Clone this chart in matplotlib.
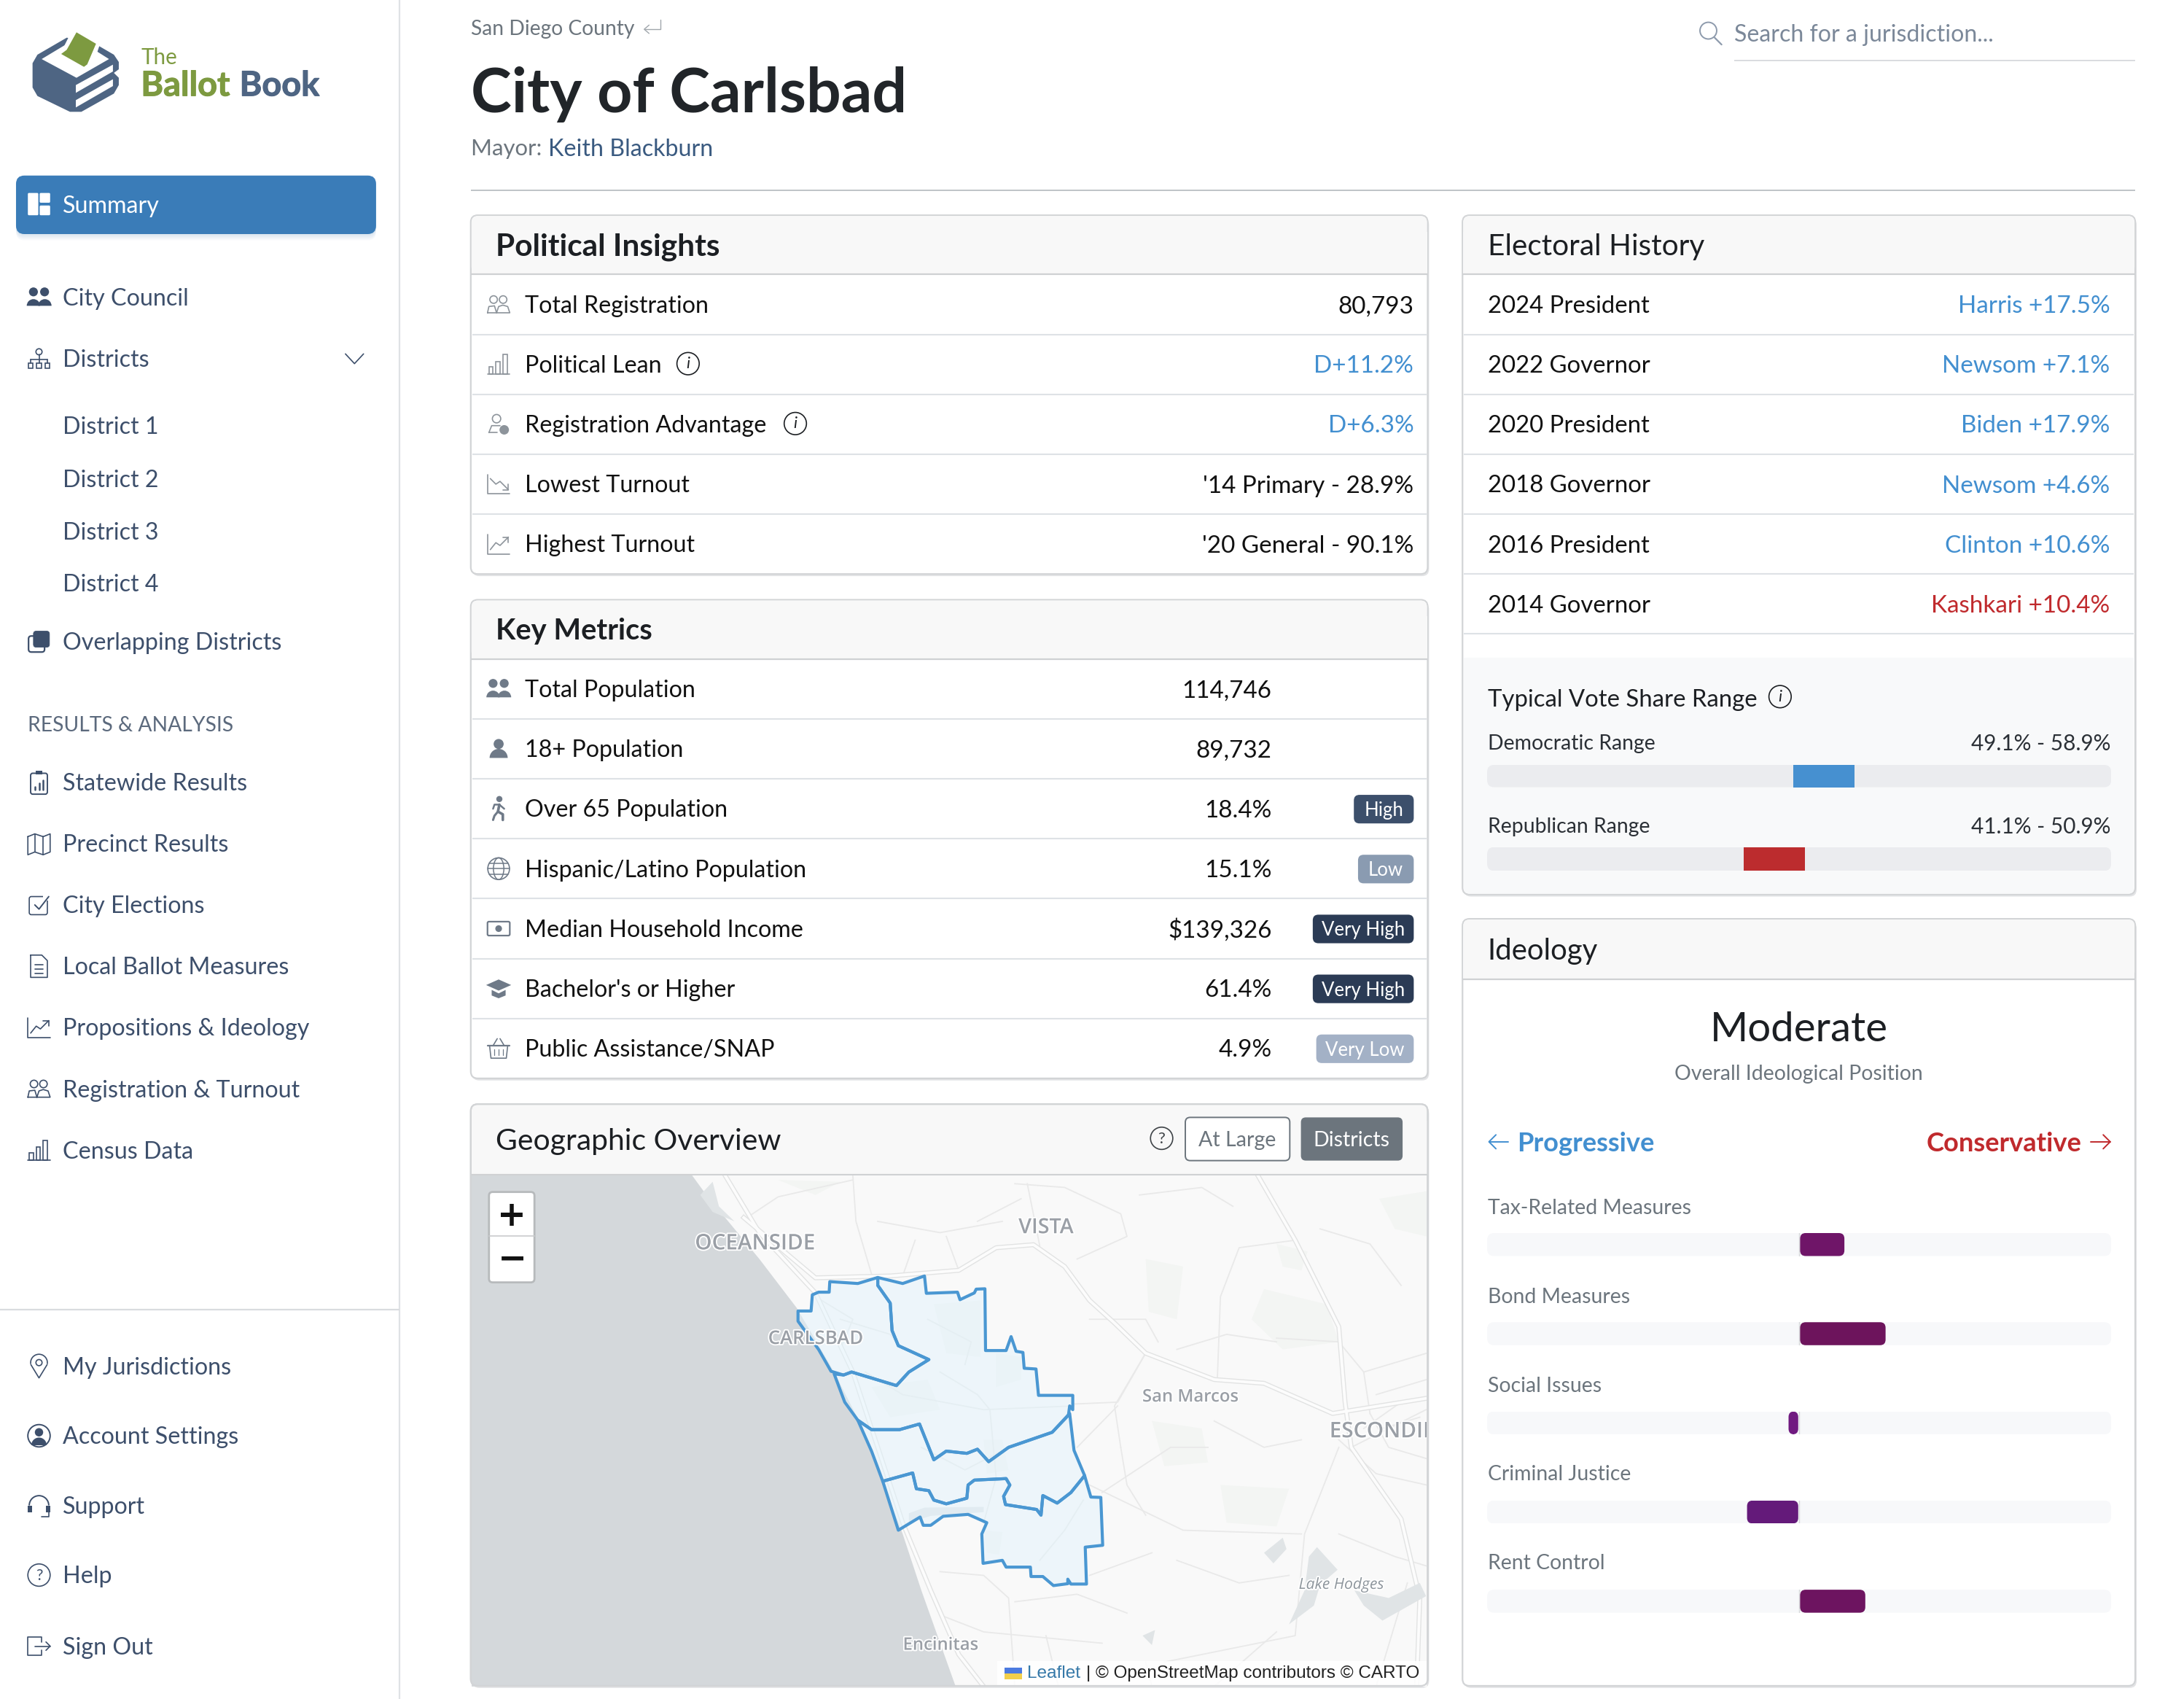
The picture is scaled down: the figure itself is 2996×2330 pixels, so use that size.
import matplotlib
matplotlib.use('Agg')
import matplotlib.pyplot as plt
import matplotlib.patheffects as pe
from matplotlib.patches import FancyBboxPatch, Rectangle, Circle, Polygon, Wedge, Ellipse, Arc

# page is laid out in a 1568 wide coordinate system, the png is 2996 wide
W_PX, H_PX = 2996, 2330
S = W_PX / 1568
FONT = 'Lato'

NAVY = '#3d4f6b'
GREY = '#6c757d'
BLUE = '#428fd0'
RED = '#c02a2d'
LINE = '#dee2e6'
BORDER = '#d2d4d6'
BODY = 17.2
NAV = 16.9
SMALL = 14.9

# sidebar
nav_main = ['City Council', 'Districts']
nav_main_y = [213.5, 257.5]
nav_districts = ['District 1', 'District 2', 'District 3', 'District 4']
nav_districts_y = [305.5, 343.5, 381.5, 418.5]
nav_results = ['Statewide Results', 'Precinct Results', 'City Elections', 'Local Ballot Measures',
               'Propositions & Ideology', 'Registration & Turnout', 'Census Data']
nav_results_y = [561.5, 605.5, 649.5, 693.5, 737.5, 781.5, 825.5]
nav_bottom = ['My Jurisdictions', 'Account Settings', 'Support', 'Help', 'Sign Out']
nav_bottom_y = [980.5, 1030.5, 1080.5, 1130.5, 1181.5]

# political insights
insight_labels = ['Total Registration', 'Political Lean', 'Registration Advantage', 'Lowest Turnout', 'Highest Turnout']
insight_values = ['80,793', 'D+11.2%', 'D+6.3%', "'14 Primary - 28.9%", "'20 General - 90.1%"]
insight_colors = ['#111111', BLUE, BLUE, '#111111', '#111111']
insight_icons = ['people_o', 'bars', 'person_check', 'trend_down', 'trend_up']

# key metrics
metric_labels = ['Total Population', '18+ Population', 'Over 65 Population', 'Hispanic/Latino Population',
                 'Median Household Income', "Bachelor's or Higher", 'Public Assistance/SNAP']
metric_values = ['114,746', '89,732', '18.4%', '15.1%', '$139,326', '61.4%', '4.9%']
metric_badges = [None, None, 'High', 'Low', 'Very High', 'Very High', 'Very Low']
metric_icons = ['people_f', 'person_f', 'walk', 'globe', 'cash', 'cap', 'basket']
badge_colors = {'High': '#3c4f6b', 'Low': '#8a9bb1', 'Very High': '#2b3b55', 'Very Low': '#a3b1c6'}

# electoral history
election_names = ['2024 President', '2022 Governor', '2020 President', '2018 Governor', '2016 President', '2014 Governor']
election_results = ['Harris +17.5%', 'Newsom +7.1%', 'Biden +17.9%', 'Newsom +4.6%', 'Clinton +10.6%', 'Kashkari +10.4%']
election_colors = [BLUE, BLUE, BLUE, BLUE, BLUE, RED]

# vote share ranges
range_names = ['Democratic Range', 'Republican Range']
range_low = [49.1, 41.1]
range_high = [58.9, 50.9]
range_colors = ['#4690d0', '#bc2c2e']

# ideology, negative = progressive, positive = conservative
ideology_names = ['Tax-Related Measures', 'Bond Measures', 'Social Issues', 'Criminal Justice', 'Rent Control']
ideology_scores = [14.8, 28.0, -3.7, -17.0, 21.5]
ideology_colors = ['#6f1568', '#6d145c', '#701a80', '#641a7a', '#6d1460']

# map outlines, in map coordinates
district_1 = [(532, 538), (553, 538), (555, 495), (565, 488), (582, 488), (583, 460), (628, 465), (660, 449), (660, 470),
              (680, 517), (683, 590), (693, 630), (742, 667), (710, 700), (690, 736), (618, 700), (605, 708), (585, 698),
              (565, 640), (532, 565)]
district_2 = [(660, 449), (700, 465), (735, 445), (738, 491), (788, 488), (792, 508), (815, 490), (818, 480), (832, 479),
              (833, 643), (866, 643), (874, 606), (882, 645), (893, 648), (895, 690), (914, 692), (918, 762), (973, 762),
              (973, 800), (968, 790), (966, 815), (940, 860), (870, 900), (838, 938), (820, 905), (803, 916), (770, 910),
              (750, 933), (727, 838), (695, 853), (650, 853), (628, 828), (607, 780), (590, 705), (605, 708), (618, 700),
              (690, 736), (710, 700), (742, 667), (693, 630), (683, 590), (680, 517), (660, 470)]
district_3 = [(628, 828), (650, 853), (695, 853), (727, 838), (750, 933), (770, 910), (803, 916), (820, 905), (838, 938),
              (870, 900), (940, 860), (968, 810), (975, 908), (992, 975), (970, 1020), (948, 1048), (925, 1028), (922, 1080),
              (915, 1065), (865, 1052), (862, 1030), (872, 1000), (866, 983), (815, 987), (805, 1000), (803, 1035), (770, 1050),
              (750, 1040), (742, 1015), (722, 1010), (716, 968), (668, 990), (650, 910)]
district_4 = [(668, 990), (716, 968), (722, 1010), (742, 1015), (750, 1040), (770, 1050), (803, 1035), (805, 1000), (815, 987),
              (866, 983), (872, 1000), (862, 1030), (865, 1052), (915, 1065), (922, 1080), (925, 1028), (948, 1048), (970, 1020),
              (992, 975), (1002, 1032), (1018, 1033), (1021, 1160), (993, 1165), (995, 1263), (970, 1263), (965, 1250), (965, 1262),
              (942, 1267), (925, 1243), (906, 1243), (905, 1218), (866, 1218), (860, 1200), (829, 1208), (827, 1130), (835, 1100),
              (805, 1078), (765, 1083), (745, 1107), (733, 1107), (728, 1085), (693, 1120)]
ocean = [(362, 178), (385, 230), (420, 300), (470, 400), (530, 530), (590, 700), (630, 830), (670, 1000), (700, 1130),
         (730, 1280), (785, 1535), (8, 1535), (8, 178)]
lagoons = [[(375, 230), (395, 195), (405, 260), (430, 300), (395, 275)],
           [(710, 1075), (735, 1060), (830, 1058), (830, 1072), (745, 1082), (710, 1100)],
           [(1280, 1180), (1310, 1140), (1316, 1170), (1295, 1208)],
           [(1352, 1190), (1365, 1165), (1398, 1225), (1370, 1265), (1360, 1320), (1320, 1370), (1345, 1280)],
           [(1425, 1280), (1480, 1300), (1530, 1260), (1540, 1295), (1470, 1360), (1440, 1320)],
           [(1085, 1400), (1105, 1385), (1100, 1425)]]
green_patches = [[(1465, 240), (1541, 220), (1541, 340), (1490, 320)], [(1280, 480), (1380, 520), (1400, 620), (1310, 640), (1260, 560)],
                 [(1090, 400), (1150, 420), (1140, 560), (1095, 540)], [(1100, 830), (1180, 850), (1190, 940), (1120, 950)],
                 [(1210, 1000), (1320, 1010), (1300, 1110), (1220, 1100)], [(750, 520), (825, 510), (825, 660), (770, 650)],
                 [(500, 190), (600, 195), (560, 230)], [(830, 1120), (860, 1125), (855, 1185), (835, 1180)],
                 [(1300, 360), (1350, 380), (1340, 430), (1310, 420)], [(850, 650), (890, 660), (890, 720), (850, 740)],
                 [(650, 740), (740, 720), (760, 800), (680, 820)], [(830, 880), (860, 880), (870, 960), (835, 970)]]
main_roads = [[(415, 178), (470, 330), (560, 490), (620, 700), (660, 900), (700, 1100), (745, 1280), (790, 1450), (830, 1535)],
              [(445, 290), (560, 450), (680, 445), (790, 430), (850, 370), (910, 362), (960, 420), (1000, 510), (1040, 570),
               (1090, 650), (1200, 720), (1280, 730), (1390, 810), (1540, 770)],
              [(1270, 178), (1330, 350), (1400, 580), (1410, 780), (1420, 900), (1500, 1090), (1530, 1300), (1525, 1535)]]
minor_roads = [[(620, 178), (625, 300), (650, 440)], [(450, 290), (500, 235), (620, 190)], [(975, 785), (1045, 780), (1090, 650)],
               [(980, 900), (1045, 790)], [(1205, 720), (1210, 500), (1240, 370), (1330, 350)], [(1400, 900), (1345, 1130), (1330, 1400), (1120, 1470)],
               [(760, 1230), (830, 1240), (870, 1300), (880, 1535)], [(760, 1345), (830, 1390), (1020, 1420)], [(1000, 1000), (1150, 1120), (1340, 1130)],
               [(1090, 650), (1040, 790), (1050, 900)], [(1300, 610), (1400, 620), (1440, 700), (1450, 810)], [(1420, 900), (1540, 800)],
               [(720, 350), (700, 445)], [(770, 340), (790, 430)], [(900, 200), (920, 365)], [(1020, 1020), (1130, 900), (1190, 900)],
               [(640, 700), (700, 760), (830, 800), (975, 790)], [(600, 560), (680, 600), (700, 640)], [(840, 800), (850, 980), (830, 1100)],
               [(990, 1040), (960, 1120), (920, 1200)], [(730, 900), (800, 960), (870, 900)], [(1460, 1535), (1510, 1260)], [(1200, 1535), (1300, 1390)],
               [(560, 500), (620, 560), (600, 640)], [(740, 560), (810, 620), (800, 680)], [(760, 700), (820, 760), (840, 800)],
               [(880, 200), (960, 210), (1050, 280), (1060, 340), (980, 400)], [(820, 300), (890, 240)], [(660, 300), (760, 330), (860, 300)],
               [(1080, 230), (1180, 210), (1230, 260)], [(1000, 560), (1090, 560), (1110, 620)], [(1140, 640), (1220, 600), (1300, 620)],
               [(1440, 700), (1541, 650)], [(1460, 760), (1541, 720)], [(1450, 810), (1480, 900), (1541, 930)], [(1440, 850), (1500, 780)],
               [(1470, 850), (1530, 820)], [(1400, 880), (1460, 970), (1541, 1000)], [(1050, 900), (1060, 1000), (1090, 1080)],
               [(1200, 830), (1280, 900), (1340, 880)], [(880, 1310), (980, 1290), (1060, 1340)], [(1140, 1200), (1240, 1260), (1320, 1240)],
               [(1000, 1240), (1100, 1180)], [(1400, 1130), (1490, 1190), (1541, 1215)], [(1370, 320), (1450, 360), (1500, 470)],
               [(930, 1400), (950, 1535)], [(1090, 1470), (1100, 1535)]]
map_labels = ['OCEANSIDE', 'VISTA', 'CARLSBAD', 'San Marcos', 'ESCONDIDO', 'Encinitas']
map_label_pos = [(463, 359), (930, 317), (560, 613), (1162, 767), (1385, 858), (761, 1426)]
map_label_size = [15.5, 15, 13.5, 12.5, 15.5, 12.5]

fig = plt.figure(figsize=(W_PX / 200, H_PX / 200), dpi=200, facecolor='white')
ax = fig.add_axes([0, 0, 1, 1])
ax.set_xlim(0, W_PX / S)
ax.set_ylim(H_PX / S, 0)
ax.axis('off')


def fs(size):
    """ font size given in page units """
    return size * S * 72 / 200


def text(x, y, s, size=BODY, color='#111111', ha='left', weight='normal', target=None, style='normal', **kw):
    """ y is the visual middle of the x-height row, text sits on a baseline below it """
    target = target or ax
    return target.text(x, y + size * 0.35, s, fontsize=fs(size), color=color, ha=ha, va='baseline',
                       family=FONT, fontweight=weight, fontstyle=style, **kw)


def box(x0, y0, x1, y1, r=4, fc='white', ec='none', lw=0.0, z=2):
    p = FancyBboxPatch((x0, y0), x1 - x0, y1 - y0, boxstyle=f'round,pad=0,rounding_size={r}',
                       fc=fc, ec=ec, lw=lw, zorder=z)
    ax.add_patch(p)
    return p


def hline(x0, x1, y, color=LINE, lw=0.75, z=3):
    ax.plot([x0, x1], [y, y], color=color, lw=lw, zorder=z, solid_capstyle='butt')


def pl(xs, ys, c, lw=0.6):
    ax.plot(xs, ys, color=c, lw=lw, zorder=6, solid_capstyle='round', solid_joinstyle='round')


def circ(x, y, r, c, fill=False, lw=0.6):
    ax.add_patch(Circle((x, y), r, fc=c if fill else 'none', ec=c, lw=0 if fill else lw, zorder=6))


def top_half(x, y, rx, ry, c, fill=True, lw=0.6):
    # inverted y axis, so 180-360 draws the upper half
    ax.add_patch(Wedge((x, y), rx, 180, 360, fc=c if fill else 'none', ec=c, lw=0 if fill else lw, zorder=6))


def icon(name, x, y, c):
    if name == 'people_f':
        circ(x - 4, y - 4, 3.2, c, True)
        circ(x + 4, y - 4, 3.2, c, True)
        top_half(x - 4, y + 6, 4.8, 5, c)
        top_half(x + 4.2, y + 6, 4.8, 5, c)
    elif name == 'people_o':
        circ(x - 3.6, y - 3.5, 2.7, c)
        circ(x + 3.2, y - 3.5, 2.7, c)
        pl([x - 8, x - 7, x - 3, x - 1.5, x - 8], [y + 6, y + 1.5, y + 1, y + 6, y + 6], c)
        pl([x - 1.5, x + 0, x + 3, x + 6.5, x + 8, x - 1.5], [y + 6, y + 1.5, y + 0.5, y + 1.5, y + 6, y + 6], c)
    elif name == 'person_f':
        circ(x, y - 3.5, 3.6, c, True)
        top_half(x, y + 6.5, 6.5, 5, c)
    elif name == 'bars':
        pl([x - 8, x + 8], [y + 7, y + 7], c)
        ax.add_patch(Rectangle((x - 7, y + 2), 3, 5, fc='none', ec=c, lw=0.6, zorder=6))
        ax.add_patch(Rectangle((x - 2, y - 2), 3, 9, fc='none', ec=c, lw=0.6, zorder=6))
        ax.add_patch(Rectangle((x + 3, y - 7), 3, 14, fc='none', ec=c, lw=0.6, zorder=6))
    elif name == 'person_check':
        circ(x - 1.5, y - 4, 3, c)
        pl([x - 7, x - 5, x + 1], [y + 6, y + 1, y + 1], c)
        pl([x - 7, x - 1], [y + 6, y + 6], c)
        circ(x + 4, y + 4, 3.4, c, True)
    elif name in ('trend_down', 'trend_up'):
        pl([x - 8, x - 8, x + 8], [y - 7, y + 7, y + 7], c)
        if name == 'trend_up':
            pl([x - 6, x - 2, x + 1, x + 7], [y + 4, y - 1, y + 1, y - 5], c)
            pl([x + 3, x + 7, x + 7], [y - 5, y - 5, y - 1], c)
        else:
            pl([x - 6, x - 2, x + 1, x + 7], [y - 4, y + 0, y - 2, y + 4], c)
            pl([x + 3, x + 7, x + 7], [y + 4, y + 4, y], c)
    elif name == 'walk':
        circ(x + 0.5, y - 7, 2.2, c, True)
        pl([x + 0.5, x - 0.5, x + 3, x + 3], [y - 3, y + 2, y + 4, y + 8], c, 1.3)
        pl([x - 0.5, x - 3, x - 4], [y + 2, y + 5, y + 8], c, 1.1)
        pl([x - 4, x - 3, x + 0.5, x + 4], [y + 0, y - 3, y - 3, y], c, 0.9)
    elif name == 'globe':
        circ(x, y, 7.8, c)
        ax.add_patch(Ellipse((x, y), 7.5, 15.6, fc='none', ec=c, lw=0.55, zorder=6))
        pl([x - 7.8, x + 7.8], [y, y], c, 0.55)
        pl([x - 6.8, x + 6.8], [y - 4, y - 4], c, 0.55)
        pl([x - 6.8, x + 6.8], [y + 4, y + 4], c, 0.55)
    elif name == 'cash':
        ax.add_patch(FancyBboxPatch((x - 8, y - 5), 16, 10, boxstyle='round,pad=0,rounding_size=1', fc='none', ec=c, lw=0.8, zorder=6))
        circ(x, y, 2.4, c, True)
    elif name == 'cap':
        ax.add_patch(Polygon([(x - 9, y - 2.5), (x, y - 6.5), (x + 9, y - 2.5), (x, y + 1.5)], fc=c, ec='none', zorder=6))
        ax.add_patch(Polygon([(x - 5, y + 1), (x, y + 3.5), (x + 5, y + 1), (x + 5, y + 5), (x, y + 7), (x - 5, y + 5)], fc=c, ec='none', zorder=6))
    elif name == 'basket':
        pl([x - 8, x + 8], [y - 2, y - 2], c, 0.8)
        pl([x - 6.5, x - 5.5, x + 5.5, x + 6.5, x - 6.5], [y - 2, y + 7, y + 7, y - 2, y - 2], c)
        pl([x - 4, x - 1], [y - 2, y - 7], c)
        pl([x + 4, x + 1], [y - 2, y - 7], c)
        for dx in (-3, 0, 3):
            pl([x + dx, x + dx], [y + 0.5, y + 5], c, 0.45)
    elif name == 'org':
        circ(x, y - 5, 2.2, c)
        pl([x, x], [y - 3, y + 0.5], c)
        pl([x - 6, x + 6], [y + 0.5, y + 0.5], c)
        for dx in (-6, 0, 6):
            pl([x + dx, x + dx], [y + 0.5, y + 3], c)
            ax.add_patch(Rectangle((x + dx - 1.8, y + 3), 3.6, 3.6, fc='none', ec=c, lw=0.6, zorder=6))
    elif name == 'overlap':
        ax.add_patch(FancyBboxPatch((x - 7.5, y - 4), 11.5, 11.5, boxstyle='round,pad=0,rounding_size=2', fc='none', ec=c, lw=0.8, zorder=6))
        ax.add_patch(FancyBboxPatch((x - 4, y - 7.5), 11.5, 11.5, boxstyle='round,pad=0,rounding_size=2', fc=c, ec=c, lw=0.3, zorder=6))
    elif name == 'clipboard':
        ax.add_patch(FancyBboxPatch((x - 6, y - 6.5), 12, 15, boxstyle='round,pad=0,rounding_size=1.5', fc='none', ec=c, lw=0.7, zorder=6))
        ax.add_patch(Rectangle((x - 2.5, y - 8.5), 5, 3, fc=c, ec='none', zorder=6))
        for dx, h in zip((-3, 0, 3), (2.5, 5, 7)):
            pl([x + dx, x + dx], [y + 5.5, y + 5.5 - h], c, 0.9)
    elif name == 'map':
        pl([x - 8, x - 3, x + 3, x + 8, x + 8, x + 3, x - 3, x - 8, x - 8], [y - 5, y - 7, y - 5, y - 7, y + 6, y + 8, y + 6, y + 8, y - 5], c)
        pl([x - 3, x - 3], [y - 7, y + 6], c)
        pl([x + 3, x + 3], [y - 5, y + 8], c)
    elif name == 'check':
        ax.add_patch(FancyBboxPatch((x - 7, y - 6), 13, 13, boxstyle='round,pad=0,rounding_size=1.5', fc='none', ec=c, lw=0.6, zorder=6))
        ax.add_patch(Rectangle((x + 3, y - 8), 5, 5, fc='white', ec='none', zorder=6))
        pl([x - 3, x, x + 7], [y, y + 3, y - 6], c, 0.7)
    elif name == 'doc':
        pl([x - 6, x + 2, x + 6, x + 6, x - 6, x - 6], [y - 8, y - 8, y - 4, y + 8, y + 8, y - 8], c)
        for dy in (-1, 2, 5):
            pl([x - 3, x + 3], [y + dy, y + dy], c)
    elif name == 'pin':
        pl([x - 5.8, x, x + 5.8], [y - 1, y + 8.5, y - 1], c)
        ax.add_patch(Arc((x, y - 2.5), 12, 12, theta1=170, theta2=370, ec=c, lw=0.6, zorder=6))
        circ(x, y - 2.5, 2.2, c)
    elif name == 'account':
        circ(x, y, 8, c, lw=0.7)
        circ(x, y - 2.5, 3, c, True)
        top_half(x, y + 6.8, 5.5, 5, c)
    elif name == 'support':
        ax.add_patch(Arc((x, y), 14, 14, theta1=180, theta2=360, ec=c, lw=0.7, zorder=6))
        ax.add_patch(Rectangle((x - 8, y), 3, 5, fc=c, ec='none', zorder=6))
        ax.add_patch(Rectangle((x + 5, y), 3, 5, fc=c, ec='none', zorder=6))
        pl([x + 7, x + 7, x + 2], [y + 5, y + 8, y + 8], c)
    elif name == 'help':
        circ(x, y, 8, c)
        ax.text(x, y + 0.4, '?', fontsize=fs(11), color=c, ha='center', va='center', family=FONT, zorder=6)
    elif name == 'signout':
        pl([x + 2, x + 2, x - 8, x - 8, x + 2, x + 2], [y - 3, y - 6.5, y - 6.5, y + 6.5, y + 6.5, y + 3], c)
        pl([x - 3, x + 8], [y, y], c)
        pl([x + 5, x + 8, x + 5], [y - 3, y, y + 3], c)
    elif name == 'info':
        circ(x, y, 8, c)
        ax.text(x, y + 0.2, 'i', fontsize=fs(11.5), color=c, ha='center', va='center', family=FONT, fontstyle='italic', zorder=6)


def draw_logo():
    """ logo in its own axes, coordinates taken from a 2.24 x 3 zoom """
    lg = fig.add_axes([0, 1 - 500 / H_PX, 700 / W_PX, 500 / H_PX])
    lg.set_xlim(0, 700 * 2.24)
    lg.set_ylim(1500, 0)
    lg.axis('off')
    dark = '#4e6583'
    green = '#7d9a40'
    lg.add_patch(Polygon([(205, 155), (115, 225), (100, 260), (100, 360), (115, 395), (215, 460), (250, 460), (350, 385),
                          (365, 350), (365, 320), (350, 300), (365, 285), (365, 255), (350, 225), (305, 190), (270, 170)], fc=dark, ec='none'))
    lg.add_patch(Polygon([(128, 243), (200, 185), (290, 205), (335, 243), (235, 320)], fc='white', ec='none'))
    lg.add_patch(Polygon([(225, 115), (310, 170), (285, 270), (258, 290), (170, 225), (195, 195)], fc='white', ec='none'))
    lg.add_patch(Polygon([(235, 133), (295, 180), (268, 265), (258, 275), (188, 222), (205, 205)], fc=green, ec='none'))
    lg.add_patch(Polygon([(233, 350), (347, 266), (347, 294), (233, 382)], fc='white', ec='none'))
    lg.add_patch(Polygon([(233, 412), (347, 326), (347, 354), (233, 442)], fc='white', ec='none'))
    lg.text(433, 264, 'The', fontsize=fs(15.5), color=green, family=FONT)
    thick = [pe.withStroke(linewidth=0.4, foreground=green)]
    lg.text(433, 394, 'Ballot', fontsize=fs(24.5), color=green, family=FONT, fontweight='bold', path_effects=thick)
    thick = [pe.withStroke(linewidth=0.4, foreground=dark)]
    lg.text(736, 394, 'Book', fontsize=fs(24.5), color=dark, family=FONT, fontweight='bold', path_effects=thick)


def card(x0, y0, x1, y1, header_bottom, title, size=21.6, weight='normal'):
    box(x0 + 1, y0 + 2, x1 + 1, y1 + 1.5, r=5, fc='#e3e4e6', z=1)
    box(x0, y0, x1, y1, r=5, fc='white', ec=BORDER, lw=0.8, z=2)
    box(x0 + 0.5, y0 + 0.5, x1 - 0.5, header_bottom - 1, r=4.5, fc='#f8f8f8', z=2.1)
    ax.add_patch(Rectangle((x0 + 0.5, y0 + 12), x1 - x0 - 1, header_bottom - y0 - 12, fc='#f8f8f8', ec='none', zorder=2.1))
    hline(x0, x1, header_bottom, color='#cfd1d3', lw=0.8)
    text(x0 + 18, (y0 + header_bottom) / 2, title, size=size, color='#1c1f23', weight=weight, zorder=5)


def bar_axes(x0, y0, x1, y1, xlim):
    """ axes over a track, so bars are placed by their value """
    a = fig.add_axes([x0 * S / W_PX, 1 - y1 * S / H_PX, (x1 - x0) * S / W_PX, (y1 - y0) * S / H_PX])
    a.set_xlim(*xlim)
    a.set_ylim(0, 1)
    a.axis('off')
    a.patch.set_alpha(0)
    return a


def rounded_bar(a, left, width, color, radius, track_h, z):
    # radius in page units; units per page unit on x comes from the axes limits
    x0, x1 = a.get_xlim()
    bb = a.get_position()
    page_w = bb.width * W_PX / S
    ux = (x1 - x0) / page_w
    rx = radius * ux
    a.add_patch(FancyBboxPatch((left, 0), width, 1, boxstyle=f'round,pad=0,rounding_size={rx}',
                               mutation_aspect=(1 / track_h) / ux, fc=color, ec='none', zorder=z))


# sidebar
ax.plot([287, 287], [0, H_PX / S], color='#dfe2e5', lw=0.8, zorder=3)
draw_logo()

for i in range(6):
    box(11.5, 127 + i * 0.6, 270, 168 + i * 0.9, r=6, fc='#3a7cb8', z=1).set_alpha(0.035)
box(11.5, 126, 270, 168, r=6, fc='#3a7cb8', z=2)
for rect in [(20, 138.5, 7.5, 16), (28.5, 138.5, 7.5, 7), (28.5, 147.5, 7.5, 7)]:
    ax.add_patch(FancyBboxPatch(rect[:2], rect[2], rect[3], boxstyle='round,pad=0,rounding_size=0.8', fc='white', ec='none', zorder=5))
text(45, 147, 'Summary', size=NAV, color='white', zorder=5)

for name, y, ic in zip(nav_main, nav_main_y, ['people_f', 'org']):
    icon(ic, 28, y, NAVY)
    text(45, y, name, size=NAV, color=NAVY)
pl([248, 254.5, 261], [254, 261, 254], NAVY, 0.6)
for name, y in zip(nav_districts, nav_districts_y):
    text(45, y, name, size=NAV, color=NAVY)
icon('overlap', 28, 460.5, NAVY)
text(45, 460.5, 'Overlapping Districts', size=NAV, color=NAVY)
text(20, 519.5, 'RESULTS & ANALYSIS', size=14.8, color='#5c6a7d')
for name, y, ic in zip(nav_results, nav_results_y, ['clipboard', 'map', 'check', 'doc', 'trend_up', 'people_o', 'bars']):
    icon(ic, 28, y, NAVY)
    text(45, y, name, size=NAV, color=NAVY)
hline(0, 287, 940, color='#d9dcdf', lw=0.8)
for name, y, ic in zip(nav_bottom, nav_bottom_y, ['pin', 'account', 'support', 'help', 'signout']):
    icon(ic, 28, y, NAVY)
    text(45, y, name, size=NAV, color=NAVY)

# page header
text(338, 20, 'San Diego County', size=14.8, color=GREY)
pl([474, 474, 463], [14, 21, 21], '#a0a6ac', 0.5)
pl([466, 462.5, 466], [18, 21, 24], '#a0a6ac', 0.5)
text(338, 65, 'City of Carlsbad', size=44, color='#212529', weight='bold')
text(338, 106, 'Mayor: ', size=16.3, color=GREY)
text(393.5, 106, 'Keith Blackburn', size=16.9, color='#3a5a80')
hline(338, 1533, 136.5, color='#bfc3c7', lw=0.7)
circ(1226.5, 22, 6, '#8d9aac', lw=0.7)
pl([1231, 1236], [27, 32], '#8d9aac', 0.8)
text(1245, 24, 'Search for a jurisdiction...', size=16.8, color='#7b8899')
hline(1245, 1533, 43.5, color='#d9dcdf', lw=0.7)

# political insights
card(338, 154.5, 1025, 412, 197, 'Political Insights', size=22.2, weight='bold')
for i, (lab, val, col, ic) in enumerate(zip(insight_labels, insight_values, insight_colors, insight_icons)):
    yc = 218.5 + i * 43
    icon(ic, 358, yc, '#8d949b')
    text(377, yc, lab, size=NAV, zorder=5)
    text(1015, yc, val, color=col, ha='right', size=17.4, zorder=5)
    if i < 4:
        hline(339, 1024, 240 + i * 43)
icon('info', 494, 261, '#1c1f23')
icon('info', 571, 304, '#1c1f23')

# key metrics
card(338, 430.5, 1025, 774, 473, 'Key Metrics', size=20.9, weight='bold')
for i, (lab, val, badge, ic) in enumerate(zip(metric_labels, metric_values, metric_badges, metric_icons)):
    yc = 494.5 + i * 43
    icon(ic, 358, yc, '#6f7a88')
    text(377, yc, lab, size=NAV, zorder=5)
    text(913, yc, val, ha='right', size=17.4, zorder=5)
    if badge:
        wb = {'High': 43, 'Low': 40, 'Very High': 72.5, 'Very Low': 70}[badge]
        box(1015 - wb, yc - 10, 1015, yc + 10.5, r=4, fc=badge_colors[badge], z=4)
        text(1015 - wb / 2, yc + 0.5, badge, size=13.5, color='white', ha='center', zorder=5)
    if i < 6:
        hline(339, 1024, 516 + i * 43)

# geographic overview
card(338, 792.5, 1025, 1210, 843, 'Geographic Overview', size=21.4)
circ(834, 817, 8, '#3e4347', lw=0.6)
ax.text(834, 817.3, '?', fontsize=fs(11.5), color='#3e4347', ha='center', va='center', family=FONT, zorder=6)
box(851, 802, 926, 833, r=3.5, fc='white', ec=GREY, lw=0.7, z=4)
text(888.5, 817.5, 'At Large', size=15, color=GREY, ha='center', zorder=5)
box(934, 802, 1007, 833, r=3.5, fc=GREY, z=4)
text(970.5, 817.5, 'Districts', size=15, color='white', ha='center', zorder=5)

# map, limits are the map coordinates of its corners
mx0, mx1 = 640 + 8 / 1.17, 640 + 1541 / 1.17
my0, my1 = 1520 + 178 / 1.936, 1520 + 1535 / 1.936
mp = fig.add_axes([mx0 / W_PX, 1 - my1 / H_PX, (mx1 - mx0) / W_PX, (my1 - my0) / H_PX])
mp.set_xlim(8, 1541)
mp.set_ylim(1535, 178)
mp.set_xticks([])
mp.set_yticks([])
for sp in mp.spines.values():
    sp.set_visible(False)
mp.set_facecolor('#f9f9f9')
for patch in green_patches:
    mp.add_patch(Polygon(patch, fc='#f3f5f3', ec='none', zorder=1))
for road in minor_roads:
    mp.plot(*zip(*road), color='#e9e9e9', lw=0.65, zorder=2)
for road in main_roads:
    mp.plot(*zip(*road), color='#e2e3e3', lw=2.4, zorder=2)
    mp.plot(*zip(*road), color='#fcfcfc', lw=1.4, zorder=2.1)
mp.add_patch(Polygon(ocean, fc='#d4d8db', ec='none', zorder=3))
for lake in lagoons:
    mp.add_patch(Polygon(lake, fc='#e0e4e6', ec='none', zorder=3))
for poly in (district_1, district_2, district_3, district_4):
    mp.add_patch(Polygon(poly, closed=True, fc='#e2f3fc', alpha=0.5, ec='none', zorder=4))
for poly in (district_1, district_2, district_3, district_4):
    mp.add_patch(Polygon(poly, closed=True, fc='none', ec='#4a97d2', lw=1.5, zorder=5, joinstyle='round'))
halo = [pe.withStroke(linewidth=1.3, foreground='white')]
for lab, (lx, ly), sz in zip(map_labels, map_label_pos, map_label_size):
    ha = 'left' if lab == 'ESCONDIDO' else 'center'
    mp.text(lx, ly, lab, fontsize=fs(sz), color='#9a9fa6', ha=ha, va='center', family='Open Sans', fontweight='semibold',
            path_effects=halo, zorder=6, clip_on=True)
mp.text(1404, 1265, 'Lake Hodges', fontsize=fs(11), color='#8d959c', ha='center', va='center', family='Open Sans',
        fontstyle='italic', path_effects=halo, zorder=6)
# zoom control
mp.add_patch(FancyBboxPatch((36, 222), 73, 240, boxstyle='round,pad=0,rounding_size=6', fc='white', ec='#b7babc', lw=1.0, zorder=7, mutation_aspect=1.6))
mp.plot([36, 109], [339, 339], color='#c9cbcd', lw=0.6, zorder=8)
mp.text(73, 286, '+', fontsize=fs(25), color='#111111', ha='center', va='center', family='DejaVu Sans', fontweight='bold', zorder=8)
mp.text(73, 400, '\u2212', fontsize=fs(25), color='#111111', ha='center', va='center', family='DejaVu Sans', fontweight='bold', zorder=8)
# attribution
mp.add_patch(Rectangle((852, 1468), 689, 67, fc='white', alpha=0.85, ec='none', zorder=7))
mp.add_patch(Rectangle((864, 1485), 27, 15, fc='#4c7be0', ec='none', zorder=8))
mp.add_patch(Rectangle((864, 1500), 27, 15, fc='#f2cf4b', ec='none', zorder=8))
mp.text(900, 1501, 'Leaflet', fontsize=fs(12.8), color='#3578a8', va='center', family='Liberation Sans', zorder=8)
mp.text(995, 1501, '| \u00a9 OpenStreetMap contributors \u00a9 CARTO', fontsize=fs(12.7), color='#222222', va='center',
        family='Liberation Sans', zorder=8)
# card border over the map edge
map_frame = fig.add_axes([0, 0, 1, 1])
map_frame.set_xlim(0, W_PX / S)
map_frame.set_ylim(H_PX / S, 0)
map_frame.axis('off')
map_frame.patch.set_alpha(0)
map_frame.add_patch(FancyBboxPatch((338, 792.5), 687, 417.5, boxstyle='round,pad=0,rounding_size=5', fc='none', ec=BORDER, lw=0.8))

# electoral history
card(1050, 154.5, 1533, 642, 197, 'Electoral History', size=21.2)
for i, (nm, res, col) in enumerate(zip(election_names, election_results, election_colors)):
    yc = 218.5 + i * 43
    text(1068, yc, nm, zorder=5)
    text(1515, yc, res, color=col, ha='right', size=17.4, zorder=5)
    hline(1051, 1532, 240 + i * 43)
ax.add_patch(FancyBboxPatch((1051, 472), 481, 169.5, boxstyle='round,pad=0,rounding_size=4', fc='#f8f9fa', ec='none', zorder=3))
ax.add_patch(Rectangle((1051, 472), 481, 20, fc='#f8f9fa', ec='none', zorder=3))
text(1068, 501, 'Typical Vote Share Range', size=17.2, color='#1c1f23', zorder=5)
icon('info', 1278, 500, '#1c1f23')
range_rows = [(533, 549, 565), (592.5, 608, 625)]
for nm, lo, hi, col, (yl, y0, y1) in zip(range_names, range_low, range_high, range_colors, range_rows):
    text(1068, yl, nm, size=SMALL, color='#2b3036', zorder=5)
    text(1515.5, yl, f'{lo}% - {hi}%', size=15.6, color='#2b3036', ha='right', zorder=5)
    a = bar_axes(1067.7, y0, 1515.7, y1, (0, 100))
    rounded_bar(a, 0, 100, '#ebecef', 5, y1 - y0, 1)
    a.barh(0.5, hi - lo, left=lo, height=1, color=col, zorder=2)

# ideology
card(1050, 659.5, 1533, 1210, 703, 'Ideology', size=21.0)
text(1291.5, 737, 'Moderate', size=29.5, color='#1c1f23', ha='center', zorder=5)
text(1291.5, 770, 'Overall Ideological Position', size=SMALL, color=GREY, ha='center', zorder=5)
pl([1083, 1069], [819.5, 819.5], BLUE, 0.7)
pl([1074, 1069, 1074], [814.5, 819.5, 824.5], BLUE, 0.7)
text(1089, 820, 'Progressive', size=19, color=BLUE, weight='bold', zorder=5)
text(1494.5, 820, 'Conservative', size=19, color=RED, weight='bold', ha='right', zorder=5)
pl([1501, 1515], [819.5, 819.5], RED, 0.7)
pl([1510, 1515, 1510], [814.5, 819.5, 824.5], RED, 0.7)
label_y = [866, 930, 994, 1057, 1121]
track_top = [885, 949, 1013, 1077, 1141]
for nm, score, col, yl, y0 in zip(ideology_names, ideology_scores, ideology_colors, label_y, track_top):
    text(1068, yl, nm, size=SMALL, color=GREY, zorder=5)
    a = bar_axes(1067.7, y0, 1515.7, y0 + 16.5, (-100, 100))
    rounded_bar(a, -100, 200, '#f7f8fa', 5, 16.5, 1)
    a.plot([0, 0], [0, 1], color='#d6d8da', lw=0.5, zorder=2)
    rounded_bar(a, min(0, score) + 0.3, abs(score) - 0.6, col, 4, 16.5, 3)

fig.savefig('out.png', dpi=200, facecolor='white')
